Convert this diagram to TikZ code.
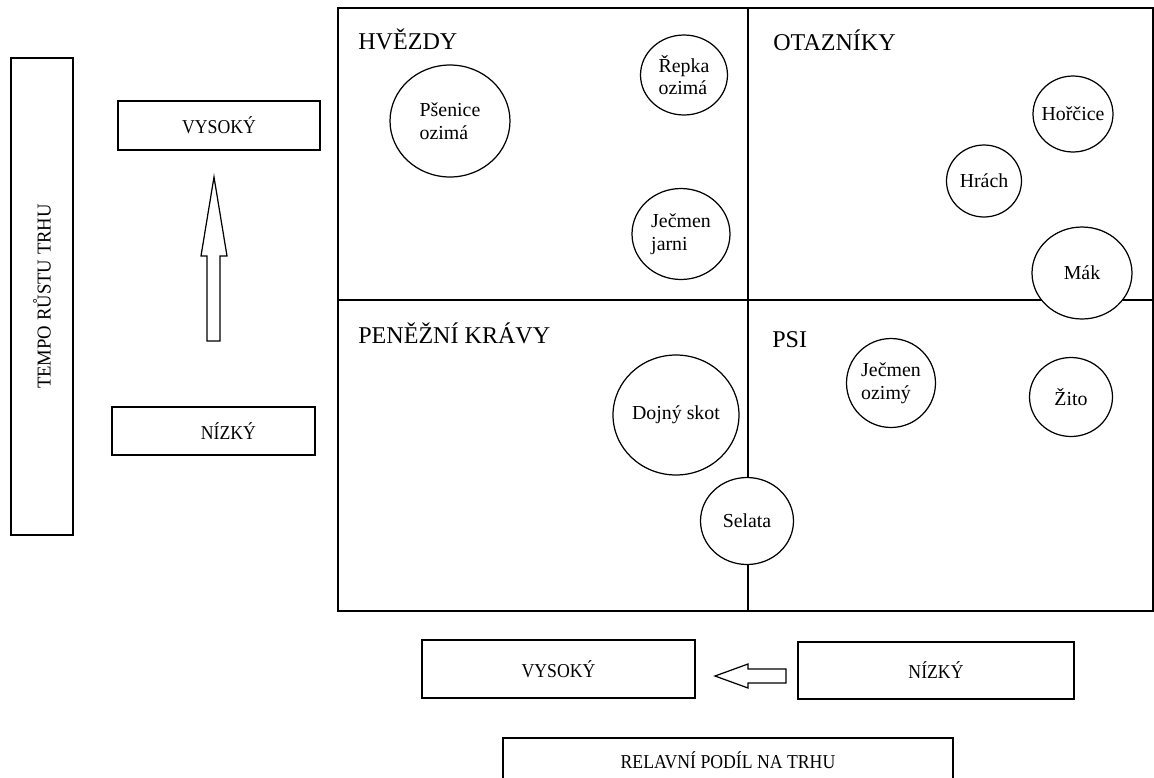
\documentclass[tikz,border=0pt]{standalone}
\usepackage{fontspec}
\usepackage{graphicx}
\setmainfont{Liberation Serif}
\usetikzlibrary{shapes.geometric}

\newcommand\boxfont{\fontsize{11.2}{13}\selectfont}
\newcommand\cropfont{\fontsize{11.3}{13}\selectfont}
\newcommand\quadfont{\fontsize{13.7}{16}\selectfont}
\newcommand\narrowtext[1]{\scalebox{0.9}[1]{#1}}

\begin{document}
\begin{tikzpicture}[x=0.02cm, y=-0.02cm,
    box/.style={draw, rectangle, line width=0.8pt, inner sep=0pt, font=\boxfont},
    crop/.style={draw, ellipse, fill=white, line width=0.7pt, inner sep=-2mm, align=left, font=\cropfont},
    quad/.style={anchor=base west, inner sep=0pt, font=\quadfont},
    blockarrow/.style={draw, fill=white, line width=0.7pt, line join=miter}]

        \useasboundingbox (0,0) rectangle (1154,778);

        % Osa tempa rustu trhu
        \node[box, rotate=90, minimum width=95.4mm, minimum height=12.4mm] (tempo) at (42,296.5) {\scalebox{0.95}[1]{TEMPO RŮSTU TRHU}\hspace{4mm}};
        \node[box, minimum width=40.4mm, minimum height=9.8mm] (vysokyL) at (219,125.5) {\narrowtext{VYSOKÝ}};
        \node[box, minimum width=40.6mm, minimum height=9.6mm] (nizkyL) at (213.5,431) {\hspace{6mm}\narrowtext{NÍZKÝ}};

        % Sipka nahoru
        \draw[blockarrow] (207,341) -- (207,256) -- (201,256) -- (214,177) -- (227,256) -- (220,256) -- (220,341) -- cycle;

        % Matice se ctyrmi kvadranty
        \coordinate (nw) at (338,8);
        \coordinate (se) at (1153,611);
        \coordinate (mid) at (748,300);
        \draw[line width=0.8pt] (nw) rectangle (se);
        \draw[line width=0.8pt] (mid |- nw) -- (mid |- se);
        \draw[line width=0.8pt] (mid -| nw) -- (mid -| se);

        % Nazvy kvadrantu
        \node[quad] (hvezdy) at (358,49) {HVĚZDY};
        \node[quad] (otazniky) at (773,50) {OTAZNÍKY};
        \node[quad] (kravy) at (358,343) {PENĚŽNÍ KRÁVY};
        \node[quad] (psi) at (772,347) {PSI};

        % Plodiny a chov
        \node[crop, minimum width=24mm, minimum height=22.4mm] (psenice) at (450,121) {Pšenice\\ozimá};
        \node[crop, minimum width=17.4mm, minimum height=16mm] (repka) at (684,75) {Řepka\\ozimá};
        \node[crop, minimum width=19.6mm, minimum height=18.2mm] (jecmenJ) at (681,234) {Ječmen\\jarni};
        \node[crop, minimum width=16mm, minimum height=15.2mm] (horcice) at (1073,114) {Hořčice};
        \node[crop, minimum width=15mm, minimum height=14.4mm] (hrach) at (984,181) {Hrách};
        \node[crop, minimum width=20mm, minimum height=18.4mm] (mak) at (1082,273) {Mák};
        \node[crop, minimum width=25.2mm, minimum height=24mm] (skot) at (676,415) {Dojný skot};
        \node[crop, minimum width=18.6mm, minimum height=17.4mm] (selata) at (747,521) {Selata};
        \node[crop, minimum width=17.8mm, minimum height=17.8mm] (jecmenO) at (891,383) {Ječmen\\ozimý};
        \node[crop, minimum width=16.6mm, minimum height=15.8mm] (zito) at (1071,397) {Žito};

        % Osa relativniho podilu na trhu
        \node[box, minimum width=54.6mm, minimum height=11.6mm] (vysokyB) at (558.5,669) {\narrowtext{VYSOKÝ}};
        \node[box, minimum width=55.2mm, minimum height=11.4mm] (nizkyB) at (936,670.5) {\narrowtext{NÍZKÝ}};
        \node[box, minimum width=90mm, minimum height=8.8mm] (podil) at (728,760) {\narrowtext{RELAVNÍ PODÍL NA TRHU}};

        % Sipka doleva
        \draw[blockarrow] (786,669) -- (748,669) -- (748,664) -- (715,676) -- (748,688) -- (748,683) -- (786,683) -- cycle;

\end{tikzpicture}
\end{document}
